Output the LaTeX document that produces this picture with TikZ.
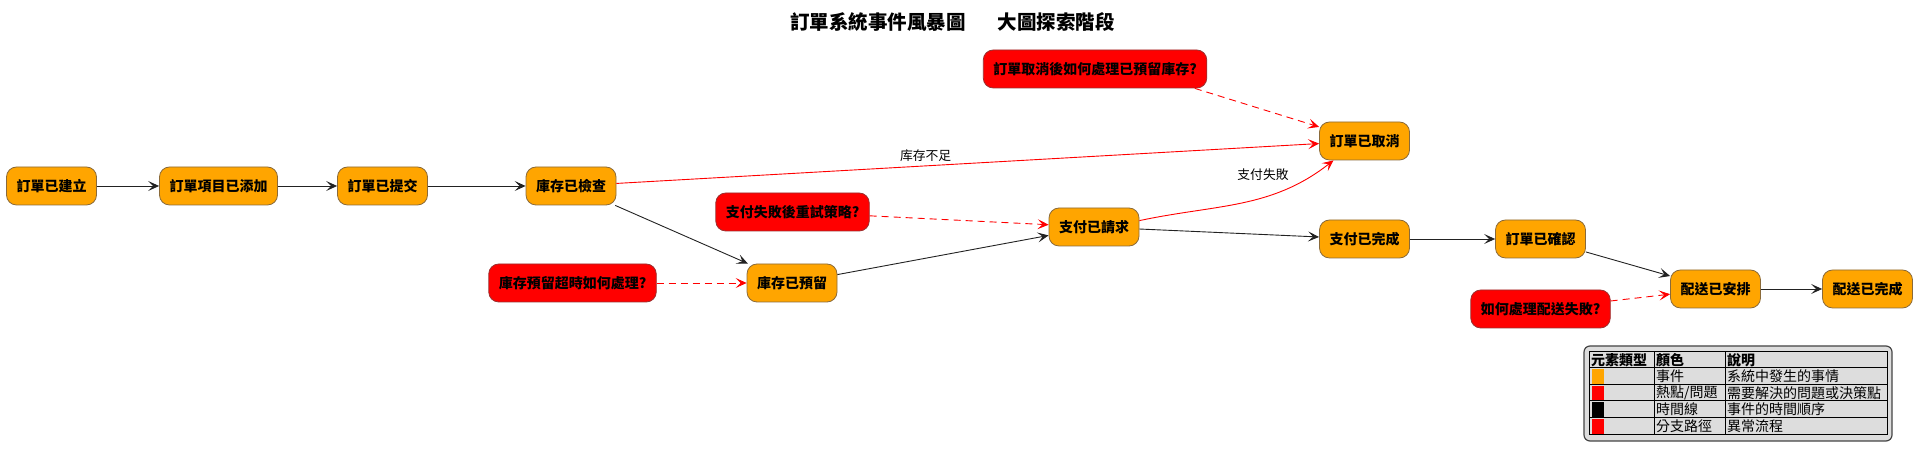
\documentclass[tikz,border=0pt]{standalone}
\usepackage{fontspec}
\setmainfont{Noto Sans CJK TC}
\usetikzlibrary{arrows.meta,calc}
\definecolor{evorange}{HTML}{FFA500}
\definecolor{evred}{HTML}{FF0000}
\definecolor{evborder}{HTML}{8A6A3A}
\definecolor{qborder}{HTML}{9A3030}
\definecolor{lgfill}{HTML}{DDDDDD}
\definecolor{lgborder}{HTML}{444444}
\definecolor{lineblk}{HTML}{222222}
\begin{document}
\begin{tikzpicture}[x=1pt,y=1pt,
  box/.style={rounded corners=10pt, minimum height=38pt, inner xsep=10pt, inner ysep=0pt,
    font=\fontsize{14}{16}\selectfont\bfseries, line width=0.8pt},
  evt/.style={box, fill=evorange, draw=evborder},
  hot/.style={box, fill=evred, draw=qborder},
  tip/.style={-{Stealth[length=11pt,width=10pt,inset=5pt]}},
  tl/.style={draw=lineblk, line width=0.9pt, tip},
  br/.style={draw=evred, line width=0.9pt, tip},
  hq/.style={br, dash pattern=on 7pt off 5pt},
  elabel/.style={font=\fontsize{12.8}{15}\selectfont, inner sep=1pt},
  lgtxt/.style={font=\fontsize{14}{16}\selectfont, anchor=west, inner sep=0pt},
  lghead/.style={lgtxt, font=\fontsize{14}{16}\selectfont\bfseries},
  lgline/.style={draw=black, line width=1pt}
]
\useasboundingbox (0,0) rectangle (1917,460);

% title
\node[inner sep=0pt, font=\fontsize{19.5}{22}\selectfont\bfseries] (title) at (952.5,438)
  {訂單系統事件風暴圖\hspace{32pt}大圖探索階段};

% events
\node[evt] (n1) at (51.5,274) {訂單已建立};
\node[evt] (n2) at (218.5,274) {訂單項目已添加};
\node[evt] (n3) at (382.5,274) {訂單已提交};
\node[evt] (chk) at (571,274) {庫存已檢查};
\node[evt] (res) at (792,177) {庫存已預留};
\node[evt] (payreq) at (1094,233) {支付已請求};
\node[evt] (cancel) at (1364.5,319) {訂單已取消};
\node[evt] (paid) at (1364.5,221) {支付已完成};
\node[evt] (conf) at (1540.5,221) {訂單已確認};
\node[evt] (ship) at (1715.5,171) {配送已安排};
\node[evt] (done) at (1867.5,171) {配送已完成};

% hotspots
\node[hot] (q1) at (572.5,177) {庫存預留超時如何處理?};
\node[hot] (q2) at (792.5,248) {支付失敗後重試策略?};
\node[hot] (q3) at (1095,391) {訂單取消後如何處理已預留庫存?};
\node[hot] (q4) at (1540.5,151) {如何處理配送失敗?};

% timeline
\draw[tl] (n1) -- (n2);
\draw[tl] (n2) -- (n3);
\draw[tl] (n3) -- (chk);
\draw[tl] (chk) -- (res);
\draw[tl] (res) -- (payreq);
\draw[tl] (payreq) -- (paid);
\draw[tl] (paid) -- (conf);
\draw[tl] (conf) -- (ship);
\draw[tl] (ship) -- (done);

% branches
\draw[br] (chk) -- node[elabel, pos=0.44, above=3pt] (l1) {库存不足} (cancel);
\draw[br] (payreq.8) to[out=12, in=-142] (cancel.-148);
\node[elabel] (l2) at (1263,285) {支付失敗};

% hotspot links
\draw[hq] (q1) -- (res);
\draw[hq] (q2) -- (payreq);
\draw[hq] (q3.-11.5) -- (cancel);
\draw[hq] (q4) -- (ship);

% legend
\draw[fill=lgfill, draw=lgborder, line width=1.2pt, rounded corners=6pt] (1584,19) rectangle (1892,114);
\draw[lgline] (1589,25) rectangle (1887,108);
\foreach \yy in {92,75,59,42} { \draw[lgline] (1589,\yy) -- (1887,\yy); }
\draw[lgline] (1654,25) -- (1654,108);
\draw[lgline] (1725,25) -- (1725,108);
\fill[evorange] (1592,76) rectangle (1604,91);
\fill[evred] (1592,60) rectangle (1604,74);
\fill[black] (1592,43) rectangle (1604,58);
\fill[evred] (1592,26) rectangle (1604,41);
\node[lghead] (h1) at (1591,100) {元素類型};
\node[lghead] (h2) at (1656,100) {顏色};
\node[lghead] (h3) at (1727,100) {說明};
\node[lgtxt] (r1b) at (1656,83.5) {事件};
\node[lgtxt] (r1c) at (1727,83.5) {系統中發生的事情};
\node[lgtxt] (r2b) at (1656,67) {熱點/問題};
\node[lgtxt] (r2c) at (1727,67) {需要解決的問題或決策點};
\node[lgtxt] (r3b) at (1656,50.5) {時間線};
\node[lgtxt] (r3c) at (1727,50.5) {事件的時間順序};
\node[lgtxt] (r4b) at (1656,33.5) {分支路徑};
\node[lgtxt] (r4c) at (1727,33.5) {異常流程};
\end{tikzpicture}
\end{document}
